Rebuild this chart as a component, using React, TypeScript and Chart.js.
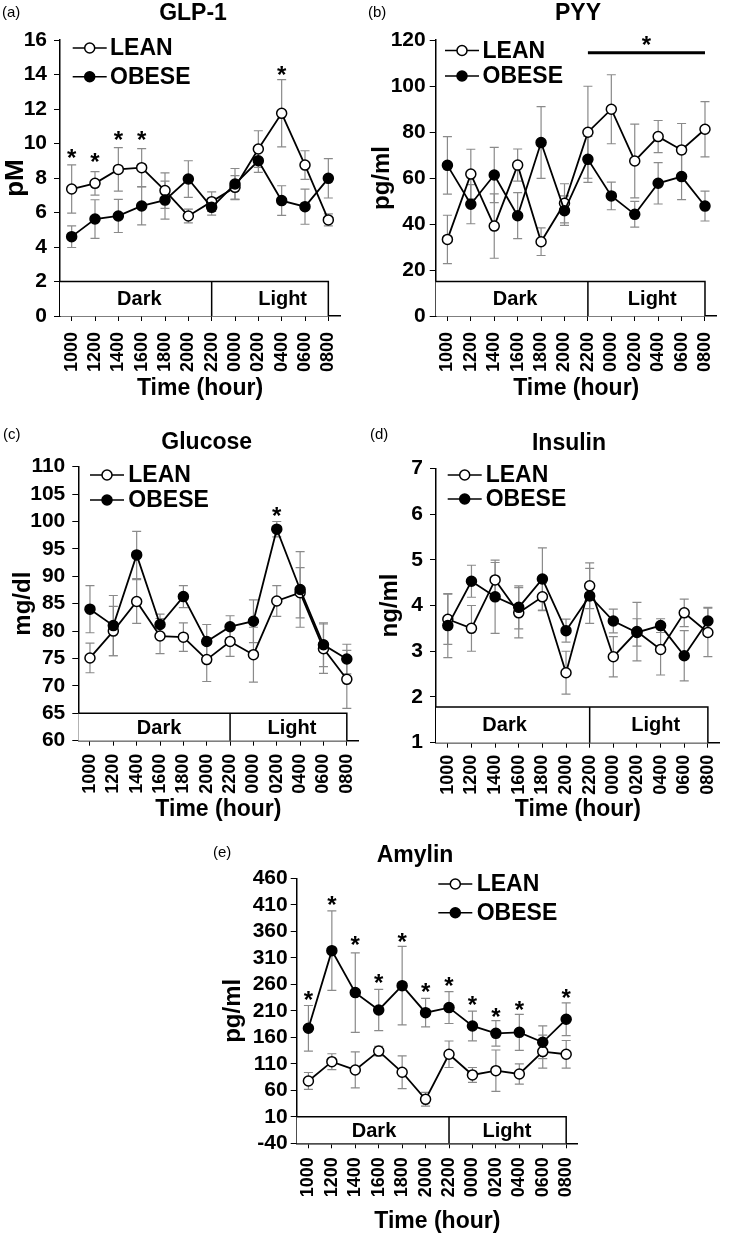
import React, { useEffect, useRef } from 'react';
import { Chart, registerables } from 'chart.js';

Chart.register(...registerables);

const FONT = '"Liberation Sans", Arial, Helvetica, sans-serif';
Chart.defaults.font.family = FONT;
Chart.defaults.color = '#000';

// ---------- data ----------
const hours = ['1000', '1200', '1400', '1600', '1800', '2000', '2200', '0000', '0200', '0400', '0600', '0800'];

// (a) GLP-1 (pM)
const glpLean = [7.36, 7.69, 8.5, 8.6, 7.27, 5.8, 6.63, 7.46, 9.68, 11.75, 8.75, 5.57];
const glpLeanErr = [1.4, 0.68, 1.26, 1.1, 1.03, 0.4, 0.57, 0.68, 1.06, 1.95, 0.83, 0.35];
const glpObese = [4.6, 5.62, 5.8, 6.38, 6.72, 7.94, 6.3, 7.65, 9.0, 6.69, 6.34, 7.98];
const glpObeseErr = [0.63, 1.12, 0.96, 1.1, 1.1, 1.06, 0.45, 0.9, 0.67, 0.86, 1.02, 1.14];
const glpStars = [9.5, 9.24, 10.5, 10.5, null, null, null, null, null, 14.26, null, null];

// (b) PYY (pg/ml)
const pyyLean = [33.3, 61.7, 39.1, 65.6, 32.3, 49.0, 79.9, 89.9, 67.4, 78.0, 72.2, 81.2];
const pyyLeanErr = [10.5, 10.8, 14, 7, 6, 8.5, 20, 15, 16, 7, 11.5, 12];
const pyyObese = [65.5, 48.6, 61.3, 43.6, 75.4, 45.8, 68.1, 52.2, 44.2, 57.7, 60.6, 47.8];
const pyyObeseErr = [12.5, 8.5, 12, 10, 15.6, 6.4, 10, 6, 5.6, 9, 10, 6.5];
const pyyStars = [null, null, null, null, null, null, null, null, null, null, null, null];

// (c) Glucose (mg/dl)
const gluLean = [75.1, 80.0, 85.4, 79.1, 78.9, 74.8, 78.1, 75.7, 85.5, 87.0, 76.8, 71.2];
const gluLeanErr = [2.7, 4.5, 4.0, 3.2, 2.6, 4.0, 2.7, 5.0, 2.8, 4.6, 4.5, 5.3];
const gluObese = [84.0, 81.0, 93.9, 81.2, 86.3, 78.1, 80.8, 81.8, 98.6, 87.6, 77.5, 74.9];
const gluObeseErr = [4.3, 5.5, 4.3, 1.9, 2.0, 3.1, 2.0, 3.9, 1.4, 6.9, 4.0, 2.7];
const gluStars = [null, null, null, null, null, null, null, null, 102, null, null, null];

// (d) Insulin (ng/ml)
const insLean = [3.7, 3.5, 4.56, 3.84, 4.19, 2.53, 4.43, 2.88, 3.43, 3.04, 3.84, 3.41];
const insLeanErr = [0.55, 0.5, 0.38, 0.55, 0.3, 0.47, 0.5, 0.44, 0.64, 0.56, 0.3, 0.53];
const insObese = [3.56, 4.53, 4.19, 3.96, 4.58, 3.45, 4.21, 3.66, 3.41, 3.56, 2.9, 3.66];
const insObeseErr = [0.7, 0.35, 0.8, 0.47, 0.68, 0.25, 0.6, 0.26, 0.3, 0.15, 0.55, 0.3];
const insStars = [null, null, null, null, null, null, null, null, null, null, null, null];

// (e) Amylin (pg/ml)
const amyLean = [77.6, 114, 98.4, 134, 94, 43, 128, 89, 97, 90.8, 133, 128];
const amyLeanErr = [16, 15, 34, 9, 31, 13, 25, 14, 39, 19, 31, 26];
const amyObese = [177, 323.5, 244.3, 211.6, 257.5, 206.5, 216, 181.4, 167.5, 169.4, 150.6, 194];
const amyObeseErr = [43, 75, 75, 39, 74, 27, 30, 28, 24, 34, 31, 31];
const amyStars = [240, 419, 343.6, 273, 351, 255.6, 268, 230.4, 208.4, 221, null, 244.3];

// ---------- panel layout ----------
type Panel = {
  key: string; letter: string; title: string; yTitle: string; yTitleSize: number;
  x: number; y: number; w: number; h: number;
  area: { l: number; r: number; t: number; b: number };
  yMin: number; yMax: number; yStep: number;
  boxTop: number; darkAt: number; lightAt: number;
  lean: number[]; leanErr: number[]; obese: number[]; obeseErr: number[]; stars: (number | null)[];
  yTitlePad: number; yTickPad: number; xTickPad: number; xTitlePad: number;
  titlePos: [number, number]; letterPos: [number, number];
  legend: { x: number; y1: number; y2: number; tx: number };
  sig?: { from: number; to: number; value: number; starAt: number; starValue: number };
};

const panels: Panel[] = [
  {
    key: 'a', letter: '(a)', title: 'GLP-1', yTitle: 'pM', yTitleSize: 26,
    x: 0, y: 0, w: 365, h: 405, area: { l: 60, r: 340, t: 40, b: 316 },
    yMin: 0, yMax: 16, yStep: 2, boxTop: 2, darkAt: 2.9, lightAt: 9.04,
    lean: glpLean, leanErr: glpLeanErr, obese: glpObese, obeseErr: glpObeseErr, stars: glpStars,
    yTitlePad: 3, yTickPad: 7, xTickPad: 11, xTitlePad: 5,
    titlePos: [193, 13.5], letterPos: [2, 13], legend: { x: 72.7, y1: 48, y2: 76.7, tx: 110 },
  },
  {
    key: 'b', letter: '(b)', title: 'PYY', yTitle: 'pg/ml', yTitleSize: 24,
    x: 365, y: 0, w: 366, h: 405, area: { l: 435.7, r: 716.7, t: 40, b: 316 },
    yMin: 0, yMax: 120, yStep: 20, boxTop: 15, darkAt: 2.89, lightAt: 8.75,
    lean: pyyLean, leanErr: pyyLeanErr, obese: pyyObese, obeseErr: pyyObeseErr, stars: pyyStars,
    yTitlePad: 5, yTickPad: 4, xTickPad: 11, xTitlePad: 5,
    titlePos: [578, 13.5], letterPos: [368, 13], legend: { x: 445, y1: 50.5, y2: 76, tx: 482.5 },
    sig: { from: 6, to: 11, value: 114.5, starAt: 8.5, starValue: 120 },
  },
  {
    key: 'c', letter: '(c)', title: 'Glucose', yTitle: 'mg/dl', yTitleSize: 24,
    x: 0, y: 420, w: 365, h: 405, area: { l: 78.3, r: 359.3, t: 466.7, b: 740.7 },
    yMin: 60, yMax: 110, yStep: 5, boxTop: 65, darkAt: 2.96, lightAt: 8.65,
    lean: gluLean, leanErr: gluLeanErr, obese: gluObese, obeseErr: gluObeseErr, stars: gluStars,
    yTitlePad: 11, yTickPad: 7, xTickPad: 8, xTitlePad: 4,
    titlePos: [206.7, 442.7], letterPos: [3, 435], legend: { x: 90, y1: 475, y2: 500, tx: 128.3 },
  },
  {
    key: 'd', letter: '(d)', title: 'Insulin', yTitle: 'ng/ml', yTitleSize: 24,
    x: 365, y: 420, w: 366, h: 405, area: { l: 436, r: 719.7, t: 468.3, b: 742.7 },
    yMin: 1, yMax: 7, yStep: 1, boxTop: 1.78, darkAt: 2.4, lightAt: 8.79,
    lean: insLean, leanErr: insLeanErr, obese: insObese, obeseErr: insObeseErr, stars: insStars,
    yTitlePad: 13, yTickPad: 7, xTickPad: 7, xTitlePad: 4,
    titlePos: [569, 443.3], letterPos: [370, 435], legend: { x: 447.7, y1: 475, y2: 499, tx: 485.7 },
  },
  {
    key: 'e', letter: '(e)', title: 'Amylin', yTitle: 'pg/ml', yTitleSize: 24,
    x: 180, y: 820, w: 420, h: 418, area: { l: 296.7, r: 577.9, t: 878.3, b: 1143.3 },
    yMin: -40, yMax: 460, yStep: 50, boxTop: 10, darkAt: 2.8, lightAt: 8.47,
    lean: amyLean, leanErr: amyLeanErr, obese: amyObese, obeseErr: amyObeseErr, stars: amyStars,
    yTitlePad: 41, yTickPad: 3, xTickPad: 9, xTitlePad: 4.8,
    titlePos: [415, 856], letterPos: [213, 853], legend: { x: 438.3, y1: 884, y2: 912.7, tx: 476.7 },
  },
];

function starText(ctx: CanvasRenderingContext2D, x: number, yCenter: number) {
  const size = 24;
  ctx.font = `bold ${size}px ${FONT}`;
  ctx.textAlign = 'center';
  ctx.textBaseline = 'alphabetic';
  ctx.fillStyle = '#000';
  ctx.fillText('*', x, yCenter + 0.56 * size);
}

function makeChart(canvas: HTMLCanvasElement, p: Panel) {
  const ox = p.x, oy = p.y;
  const decor = {
    id: 'decor' + p.key,
    beforeDatasetsDraw(chart: any) {
      const { ctx, chartArea } = chart;
      const xs = chart.scales.x, ys = chart.scales.y;
      const x0 = xs.getPixelForValue(0);
      const step = xs.getPixelForValue(1) - x0;
      const yb = ys.getPixelForValue(p.yMin);
      const yt = ys.getPixelForValue(p.boxTop);
      const xd = xs.getPixelForValue(6);
      const xe = xs.getPixelForValue(11);
      ctx.save();
      ctx.fillStyle = '#fff';
      ctx.fillRect(chartArea.left, yt, xe - chartArea.left, yb - yt);
      ctx.strokeStyle = '#000';
      ctx.lineWidth = 1.5;
      ctx.beginPath();
      ctx.moveTo(chartArea.left, yt);
      ctx.lineTo(xe, yt);
      ctx.lineTo(xe, yb);
      ctx.moveTo(xd, yt);
      ctx.lineTo(xd, yb);
      ctx.stroke();
      ctx.font = `bold 20px ${FONT}`;
      ctx.fillStyle = '#000';
      ctx.textAlign = 'center';
      ctx.textBaseline = 'middle';
      const ym = (yt + yb) / 2 + 1;
      ctx.fillText('Dark', x0 + p.darkAt * step, ym);
      ctx.fillText('Light', x0 + p.lightAt * step, ym);

      // error bars
      ctx.strokeStyle = '#8a8a8a';
      ctx.lineWidth = 1.2;
      const series: [number[], number[]][] = [[p.lean, p.leanErr], [p.obese, p.obeseErr]];
      series.forEach(([vals, errs]) => {
        vals.forEach((v, i) => {
          const px = xs.getPixelForValue(i);
          const y1 = ys.getPixelForValue(v + errs[i]);
          const y2 = ys.getPixelForValue(v - errs[i]);
          ctx.beginPath();
          ctx.moveTo(px, y1); ctx.lineTo(px, y2);
          ctx.moveTo(px - 4.5, y1); ctx.lineTo(px + 4.5, y1);
          ctx.moveTo(px - 4.5, y2); ctx.lineTo(px + 4.5, y2);
          ctx.stroke();
        });
      });
      ctx.restore();
    },
    afterDatasetsDraw(chart: any) {
      const { ctx } = chart;
      const xs = chart.scales.x, ys = chart.scales.y;
      ctx.save();
      // significance stars
      p.stars.forEach((s, i) => {
        if (s === null) return;
        starText(ctx, xs.getPixelForValue(i), ys.getPixelForValue(s));
      });
      if (p.sig) {
        const yy = ys.getPixelForValue(p.sig.value);
        ctx.strokeStyle = '#000';
        ctx.lineWidth = 3;
        ctx.beginPath();
        ctx.moveTo(xs.getPixelForValue(p.sig.from), yy);
        ctx.lineTo(xs.getPixelForValue(p.sig.to), yy);
        ctx.stroke();
        starText(ctx, xs.getPixelForValue(p.sig.starAt), ys.getPixelForValue(p.sig.starValue));
      }
      // legend
      const items: [string, string, number][] = [['LEAN', '#fff', p.legend.y1], ['OBESE', '#000', p.legend.y2]];
      items.forEach(([label, fill, ly]) => {
        const lx = p.legend.x - ox;
        const yy = ly - oy;
        ctx.strokeStyle = '#000';
        ctx.lineWidth = 1.5;
        ctx.beginPath();
        ctx.moveTo(lx, yy); ctx.lineTo(lx + 34, yy);
        ctx.stroke();
        ctx.beginPath();
        ctx.arc(lx + 17, yy, 5, 0, Math.PI * 2);
        ctx.fillStyle = fill;
        ctx.fill();
        ctx.stroke();
        ctx.font = `bold 23px ${FONT}`;
        ctx.fillStyle = '#000';
        ctx.textAlign = 'left';
        ctx.textBaseline = 'middle';
        ctx.fillText(label, p.legend.tx - ox, yy + 1);
      });
      // title and panel letter
      ctx.font = `bold 23px ${FONT}`;
      ctx.textAlign = 'center';
      ctx.textBaseline = 'middle';
      ctx.fillText(p.title, p.titlePos[0] - ox, p.titlePos[1] - oy);
      ctx.font = `15px ${FONT}`;
      ctx.textAlign = 'left';
      ctx.fillText(p.letter, p.letterPos[0] - ox, p.letterPos[1] - oy);
      ctx.restore();
    },
  };

  return new Chart(canvas, {
    type: 'line',
    data: {
      labels: hours,
      datasets: [
        {
          label: 'OBESE', data: p.obese, borderColor: '#000', borderWidth: 1.8,
          pointRadius: 5, pointBorderWidth: 1.5, pointBackgroundColor: '#000', pointBorderColor: '#000',
          tension: 0, clip: false as any,
        },
        {
          label: 'LEAN', data: p.lean, borderColor: '#000', borderWidth: 1.8,
          pointRadius: 5, pointBorderWidth: 1.5, pointBackgroundColor: '#fff', pointBorderColor: '#000',
          tension: 0, clip: false as any,
        },
      ],
    },
    options: {
      responsive: false,
      animation: false,
      devicePixelRatio: 1,
      events: [],
      layout: { padding: { left: 0, top: p.area.t - p.y, right: p.x + p.w - p.area.r, bottom: 0 } },
      plugins: { legend: { display: false }, tooltip: { enabled: false }, title: { display: false } },
      scales: {
        x: {
          type: 'category',
          offset: true,
          grid: { display: true, drawOnChartArea: false, drawTicks: true, tickLength: 5, color: '#000', lineWidth: 1 },
          border: { display: true, color: '#000', width: 1.5 },
          ticks: {
            color: '#000', font: { size: 18, weight: 'bold' }, padding: p.xTickPad,
            maxRotation: 90, minRotation: 90, autoSkip: false,
          },
          title: {
            display: true, text: 'Time (hour)', color: '#000',
            font: { size: 23, weight: 'bold', lineHeight: 1 }, padding: { top: 0, bottom: p.xTitlePad },
          },
          afterFit: (s: any) => { s.height = p.y + p.h - p.area.b; s.paddingLeft = 0; s.paddingRight = 0; },
        },
        y: {
          type: 'linear',
          min: p.yMin, max: p.yMax,
          grid: { display: true, drawOnChartArea: false, drawTicks: true, tickLength: 6, color: '#000', lineWidth: 1 },
          border: { display: true, color: '#000', width: 1.5 },
          ticks: {
            stepSize: p.yStep, autoSkip: false, color: '#000',
            font: { size: 21, weight: 'bold' }, padding: p.yTickPad,
          },
          title: {
            display: true, text: p.yTitle, color: '#000',
            font: { size: p.yTitleSize, weight: 'bold', lineHeight: 1 }, padding: { top: p.yTitlePad, bottom: 0 },
          },
          afterFit: (s: any) => { s.width = p.area.l - p.x; s.paddingTop = 0; s.paddingBottom = 0; },
        },
      },
    } as any,
    plugins: [decor],
  });
}

function PanelChart({ p }: { p: Panel }) {
  const ref = useRef<HTMLCanvasElement>(null);
  useEffect(() => {
    const chart = makeChart(ref.current as HTMLCanvasElement, p);
    return () => chart.destroy();
  }, [p]);
  return (
    <canvas
      ref={ref}
      width={p.w}
      height={p.h}
      style={{ position: 'absolute', left: p.x, top: p.y, width: p.w, height: p.h }}
    />
  );
}

export default function App() {
  return (
    <div style={{ position: 'absolute', left: 0, top: 0, width: 731, height: 1238, background: '#fff' }}>
      {panels.map((p) => (
        <PanelChart key={p.key} p={p} />
      ))}
    </div>
  );
}
